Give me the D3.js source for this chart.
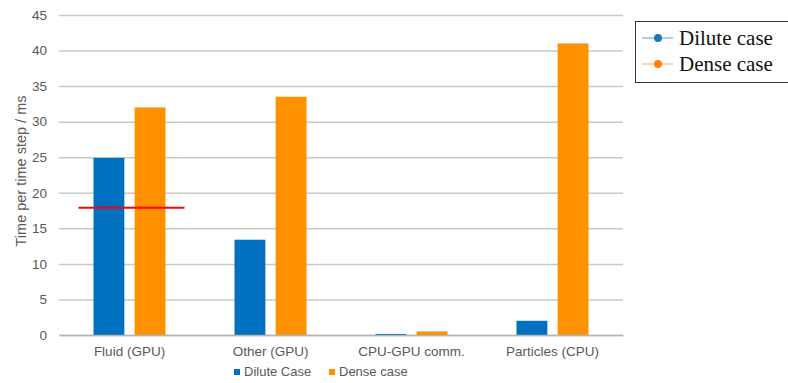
<!DOCTYPE html>
<html>
<head>
<meta charset="utf-8">
<script src="https://cdnjs.cloudflare.com/ajax/libs/d3/7.8.5/d3.min.js"></script>
<style>
  body { margin:0; padding:0; background:#fff; }
  svg { display:block; font-family:"Liberation Sans", Arial, sans-serif; }
  .tick text { fill:#595959; font-size:13.5px; }
</style>
</head>
<body>
<svg width="788" height="383"></svg>
<script>
// chart data
var categories = ["Fluid (GPU)", "Other (GPU)", "CPU-GPU comm.", "Particles (CPU)"];
var series = ["Dilute Case", "Dense case"];
var diluteValues = [24.9, 13.4, 0.15, 2.0];
var denseValues = [32.0, 33.5, 0.5, 41.0];
var yTicks = [0, 5, 10, 15, 20, 25, 30, 35, 40, 45];
var markerValue = 17.9;       // red reference line, first category
var overlayLegend = ["Dilute case", "Dense case"];

var svg = d3.select("svg"),
    margin = {top: 15, left: 59, right: 165, bottom: 48},
    width = 788 - margin.left - margin.right,
    height = 383 - margin.top - margin.bottom;

var g = svg.append("g").attr("transform", "translate(" + margin.left + "," + margin.top + ")");

var x = d3.scaleBand().domain(categories).range([0, width]);
var x1 = d3.scaleBand().domain(series).range([0, 72]).paddingInner(0.25);
var y = d3.scaleLinear().domain([0, 45]).range([height, 0]);
var colors = ["#0070C0", "#FF9100"];

// grid
g.append("g")
  .call(d3.axisLeft(y).tickValues(yTicks).tickSize(-width).tickPadding(12))
  .call(function(a) {
    a.select(".domain").remove();
    a.selectAll(".tick line").attr("stroke", "#c8c8c8").attr("stroke-width", 1.5);
  });

// bars
var data = categories.map(function(c, i) { return {cat: c, vals: [diluteValues[i], denseValues[i]]}; });
var grp = g.selectAll(".cat").data(data).enter().append("g")
  .attr("transform", function(d) { return "translate(" + (x(d.cat) + x.bandwidth() / 2 - 36) + ",0)"; });
grp.selectAll("rect").data(function(d) { return d.vals.map(function(v, i) { return {s: series[i], v: v, i: i}; }); })
  .enter().append("rect")
  .attr("x", function(d) { return x1(d.s); })
  .attr("width", x1.bandwidth())
  .attr("y", function(d) { return y(d.v); })
  .attr("height", function(d) { return height - y(d.v); })
  .attr("fill", function(d) { return colors[d.i]; });

// x axis
g.append("g")
  .attr("transform", "translate(0," + height + ")")
  .call(d3.axisBottom(x).tickSize(0).tickPadding(11))
  .call(function(a) {
    a.select(".domain").attr("stroke", "#b4b4b4").attr("stroke-width", 1.5);
  });

// red marker line
var cx0 = x(categories[0]) + x.bandwidth() / 2;
g.append("line")
  .attr("x1", cx0 - 51).attr("x2", cx0 + 55)
  .attr("y1", y(markerValue)).attr("y2", y(markerValue))
  .attr("stroke", "#ff0000").attr("stroke-width", 2);

// y label
svg.append("text")
  .attr("transform", "translate(26," + (margin.top + height / 2 - 4) + ") rotate(-90)")
  .attr("text-anchor", "middle")
  .attr("fill", "#595959").style("font-size", "14.5px")
  .text("Time per time step / ms");

// bottom legend
var lg = svg.append("g").attr("transform", "translate(234,376)");
series.forEach(function(s, i) {
  var off = i * 95;
  lg.append("rect").attr("x", off).attr("y", -7).attr("width", 6).attr("height", 6).attr("fill", colors[i]);
  lg.append("text").attr("x", off + 10).attr("y", 0).attr("fill", "#595959").style("font-size", "13px").text(s);
});

// overlay legend box (top right)
var ol = svg.append("g").attr("transform", "translate(635,21)");
ol.append("rect").attr("x", 0.5).attr("y", 0.5).attr("width", 160).attr("height", 61)
  .attr("fill", "#fff").attr("stroke", "#333").attr("stroke-width", 1);
var olColors = ["#1f77b4", "#ff7f0e"];
overlayLegend.forEach(function(s, i) {
  var yy = 17 + i * 26;
  ol.append("line").attr("x1", 7).attr("x2", 38).attr("y1", yy).attr("y2", yy)
    .attr("stroke", olColors[i]).attr("stroke-opacity", 0.6).attr("stroke-width", 1.2);
  ol.append("circle").attr("cx", 23).attr("cy", yy).attr("r", 4).attr("fill", olColors[i]);
  ol.append("text").attr("x", 44).attr("y", yy + 7)
    .style("font-family", "'Liberation Serif', 'DejaVu Serif', serif").style("font-size", "21px")
    .attr("fill", "#111").text(s);
});
</script>
</body>
</html>
